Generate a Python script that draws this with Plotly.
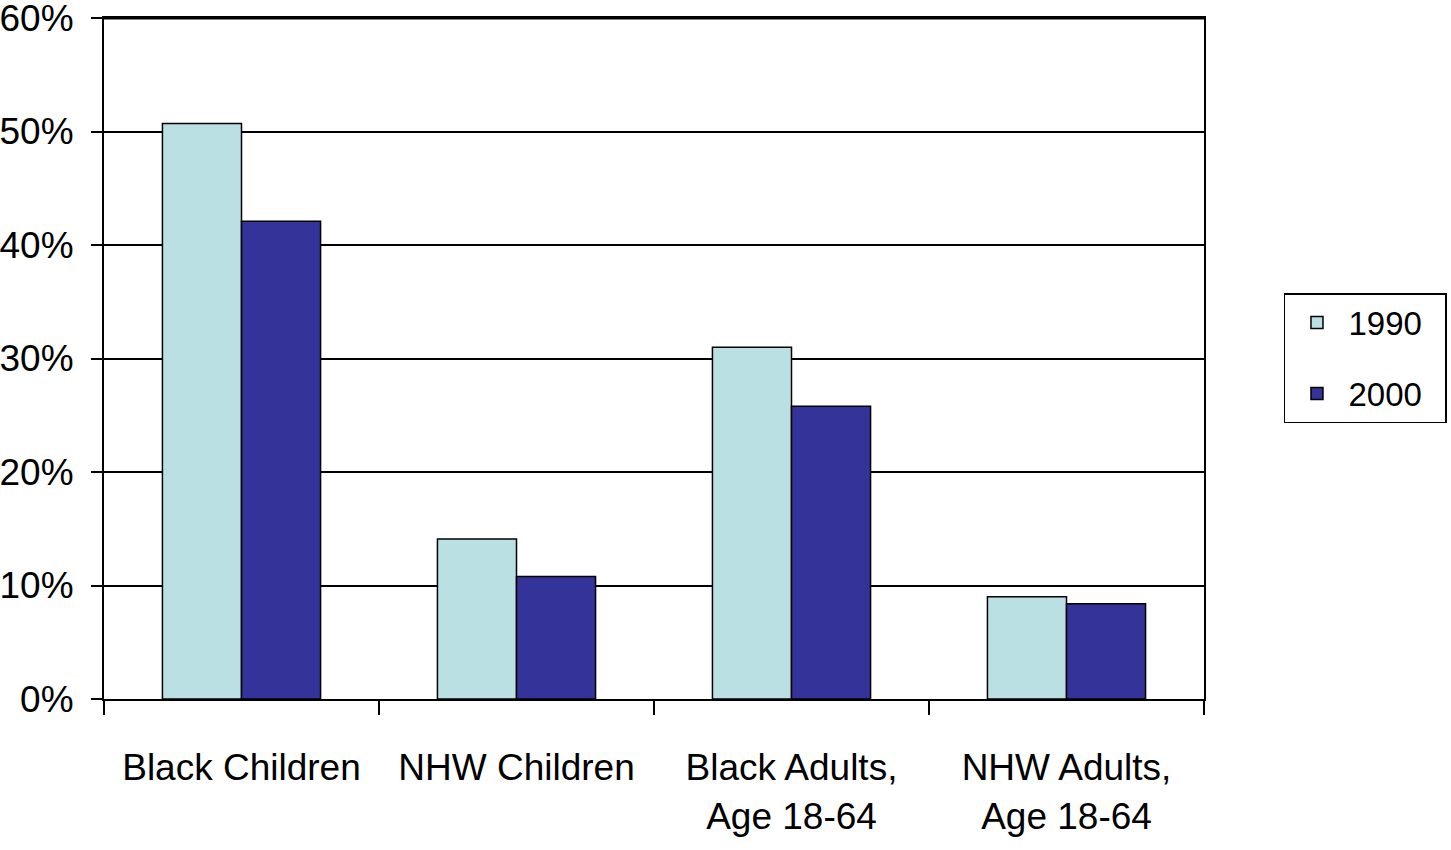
import plotly.graph_objects as go

# Share of population (%) by group, 1990 vs 2000
categories = ["Black Children", "NHW Children", "Black Adults,<br>Age 18-64", "NHW Adults,<br>Age 18-64"]
values_1990 = [50.7, 14.1, 31.0, 9.0]
values_2000 = [42.1, 10.8, 25.8, 8.4]
y_ticks = [0, 10, 20, 30, 40, 50, 60]
y_tick_labels = ["0%", "10%", "20%", "30%", "40%", "50%", "60%"]

FONT = "Liberation Sans, Arial, sans-serif"
NBSP = "\u00a0"

fig = go.Figure()
fig.add_trace(go.Bar(
    x=categories, y=values_1990, name="1990" + NBSP * 2,
    marker=dict(color="#BBE0E3", line=dict(color="black", width=1.5)),
    legendgroup="a",
))
fig.add_trace(go.Bar(
    x=categories, y=values_2000, name="2000" + NBSP * 2,
    marker=dict(color="#333399", line=dict(color="black", width=1.5)),
    legendgroup="b",
))

# heavier top edge of the frame
fig.add_shape(type="line", xref="paper", yref="y", x0=0, x1=1, y0=60, y1=60,
              line=dict(color="black", width=3))

fig.update_layout(
    width=1451, height=850,
    margin=dict(l=104, r=247, t=18, b=151, autoexpand=False),
    paper_bgcolor="white", plot_bgcolor="white",
    barmode="group", bargap=0.425, bargroupgap=0,
    font=dict(family=FONT, size=37, color="black"),
    showlegend=True,
    legend=dict(
        x=1.0727, y=0.596, xanchor="left", yanchor="top",
        bordercolor="black", borderwidth=1.5, bgcolor="white",
        font=dict(family=FONT, size=33),
        tracegroupgap=25, itemwidth=53,
    ),
    xaxis=dict(
        showline=True, linecolor="black", linewidth=2, mirror=True,
        ticks="outside", ticklen=14, tickwidth=1.5, tickcolor="black",
        tickson="boundaries", showgrid=False, tickangle=0, automargin=False,
        ticklabelstandoff=35,
        tickfont=dict(family=FONT, size=37),
    ),
    yaxis=dict(
        range=[0, 60], tickvals=y_ticks, ticktext=y_tick_labels,
        showline=True, linecolor="black", linewidth=2, mirror=True,
        ticks="outside", ticklen=11, tickwidth=1.5, tickcolor="black",
        showgrid=True, gridcolor="black", gridwidth=1.5,
        zeroline=False, ticklabelstandoff=10, automargin=False,
        ticklabeloverflow="allow",
        tickfont=dict(family=FONT, size=37),
    ),
)

fig.write_html("out.html")
